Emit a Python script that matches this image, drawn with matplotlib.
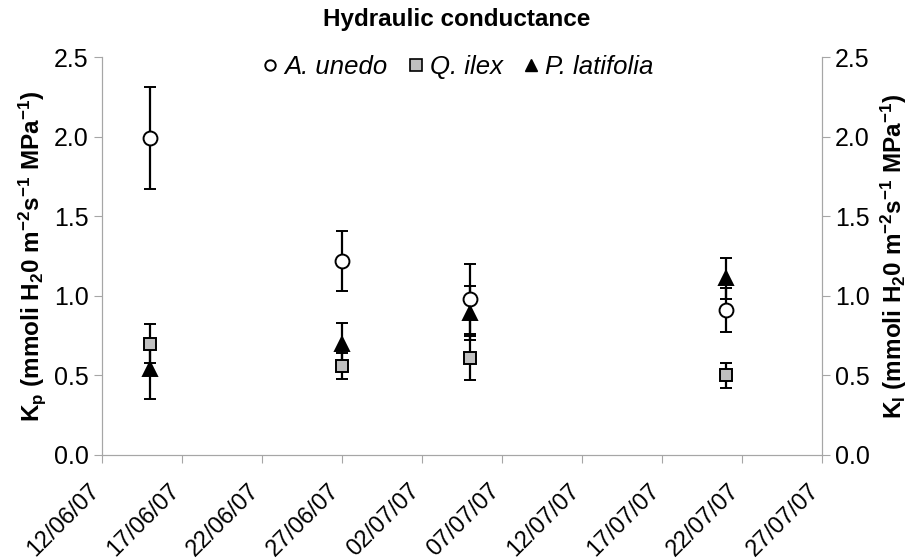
import numpy as np
import matplotlib.pyplot as plt
import matplotlib.transforms as mtransforms
from matplotlib.lines import Line2D
from datetime import datetime

plt.rcParams['font.family'] = ['Liberation Sans', 'DejaVu Sans']
plt.rcParams['mathtext.fontset'] = 'custom'
plt.rcParams['mathtext.rm'] = 'Liberation Sans'
plt.rcParams['mathtext.bf'] = 'Liberation Sans:bold'
plt.rcParams['mathtext.it'] = 'Liberation Sans:italic'

fechas = ['15/06/07', '27/06/07', '05/07/07', '21/07/07']
especies = ['A. unedo', 'Q. ilex', 'P. latifolia']

unedo = [1.99, 1.22, 0.98, 0.91]
unedo_err = [0.32, 0.19, 0.22, 0.14]
ilex = [0.70, 0.56, 0.61, 0.50]
ilex_err = [0.12, 0.08, 0.14, 0.08]
latifolia = [0.54, 0.70, 0.89, 1.11]
latifolia_err = [0.19, 0.13, 0.17, 0.13]

ticks_fecha = ['12/06/07', '17/06/07', '22/06/07', '27/06/07', '02/07/07',
               '07/07/07', '12/07/07', '17/07/07', '22/07/07', '27/07/07']


def a_fecha(s):
    return datetime.strptime(s, '%d/%m/%y')


x = [a_fecha(f) for f in fechas]
xt = [a_fecha(f) for f in ticks_fecha]

fig = plt.figure(figsize=(9.14, 5.6), dpi=100)
ax = fig.add_axes([0.1116, 0.1875, 0.7877, 0.7107])

gris = '#a6a6a6'
estilos = [
    (unedo, unedo_err, dict(marker='o', mfc='white', mec='black', ms=10)),
    (ilex, ilex_err, dict(marker='s', mfc='#c0c0c0', mec='black', ms=9)),
    (latifolia, latifolia_err, dict(marker='^', mfc='black', mec='black', ms=10)),
]
for (vals, errs, st), nombre in zip(estilos, especies):
    ax.errorbar(x, vals, yerr=errs, ls='none', ecolor='black', elinewidth=1.6,
                capsize=4.5, capthick=1.6, mew=1.4, label=nombre, **st)

ax.set_xlim(xt[0], xt[-1])
ax.set_ylim(0, 2.5)
ax.set_yticks(np.arange(0, 2.51, 0.5))
ax.yaxis.set_major_formatter(plt.FormatStrFormatter('%.1f'))
ax.set_xticks(xt)
ax.set_xticklabels(ticks_fecha, rotation=45, ha='right', va='top',
                   rotation_mode='anchor')
ax.tick_params(axis='x', labelsize=17, length=6, color=gris, pad=12)
ax.tick_params(axis='y', labelsize=18, length=6, color=gris, direction='out')

# corre las fechas un poco a la izquierda de su marca
desplaza = mtransforms.ScaledTranslation(-10 / 72, 0, fig.dpi_scale_trans)
for lab in ax.get_xticklabels():
    lab.set_transform(lab.get_transform() + desplaza)

for lado in ['left', 'bottom', 'right']:
    ax.spines[lado].set_color(gris)
ax.spines['top'].set_visible(False)

ax2 = ax.twinx()
ax2.set_ylim(0, 2.5)
ax2.set_yticks(np.arange(0, 2.51, 0.5))
ax2.yaxis.set_major_formatter(plt.FormatStrFormatter('%.1f'))
ax2.tick_params(axis='y', labelsize=18, length=6, color=gris)
for lado in ['left', 'bottom', 'right']:
    ax2.spines[lado].set_color(gris)
ax2.spines['top'].set_visible(False)

ax.set_ylabel(r'$\mathbf{K_p}$ (mmoli H$\mathbf{_2}$0 m$\mathbf{^{-2}}$s$\mathbf{^{-1}}$ MPa$\mathbf{^{-1}}$)',
              fontsize=17.5, fontweight='bold', labelpad=4)
ax2.set_ylabel(r'$\mathbf{K_l}$ (mmoli H$\mathbf{_2}$0 m$\mathbf{^{-2}}$s$\mathbf{^{-1}}$ MPa$\mathbf{^{-1}}$)',
               fontsize=17.5, fontweight='bold', labelpad=6)

fig.suptitle('Hydraulic conductance', fontsize=17.5, fontweight='bold', y=0.985)

# leyenda con marcadores más pequeños que los del gráfico
marcas = [
    Line2D([], [], ls='none', marker='o', mfc='white', mec='black', ms=7.5, mew=1.4),
    Line2D([], [], ls='none', marker='s', mfc='#c0c0c0', mec='black', ms=8.5, mew=1.2),
    Line2D([], [], ls='none', marker='^', mfc='black', mec='black', ms=8.5),
]
fig.legend(marcas, especies, loc='center', bbox_to_anchor=(0.4995, 0.881),
           ncol=3, frameon=False, prop={'style': 'italic', 'size': 18.5},
           handletextpad=0.15, columnspacing=0.7, handlelength=0.8,
           borderpad=0)

fig.savefig('out.png', dpi=100)
